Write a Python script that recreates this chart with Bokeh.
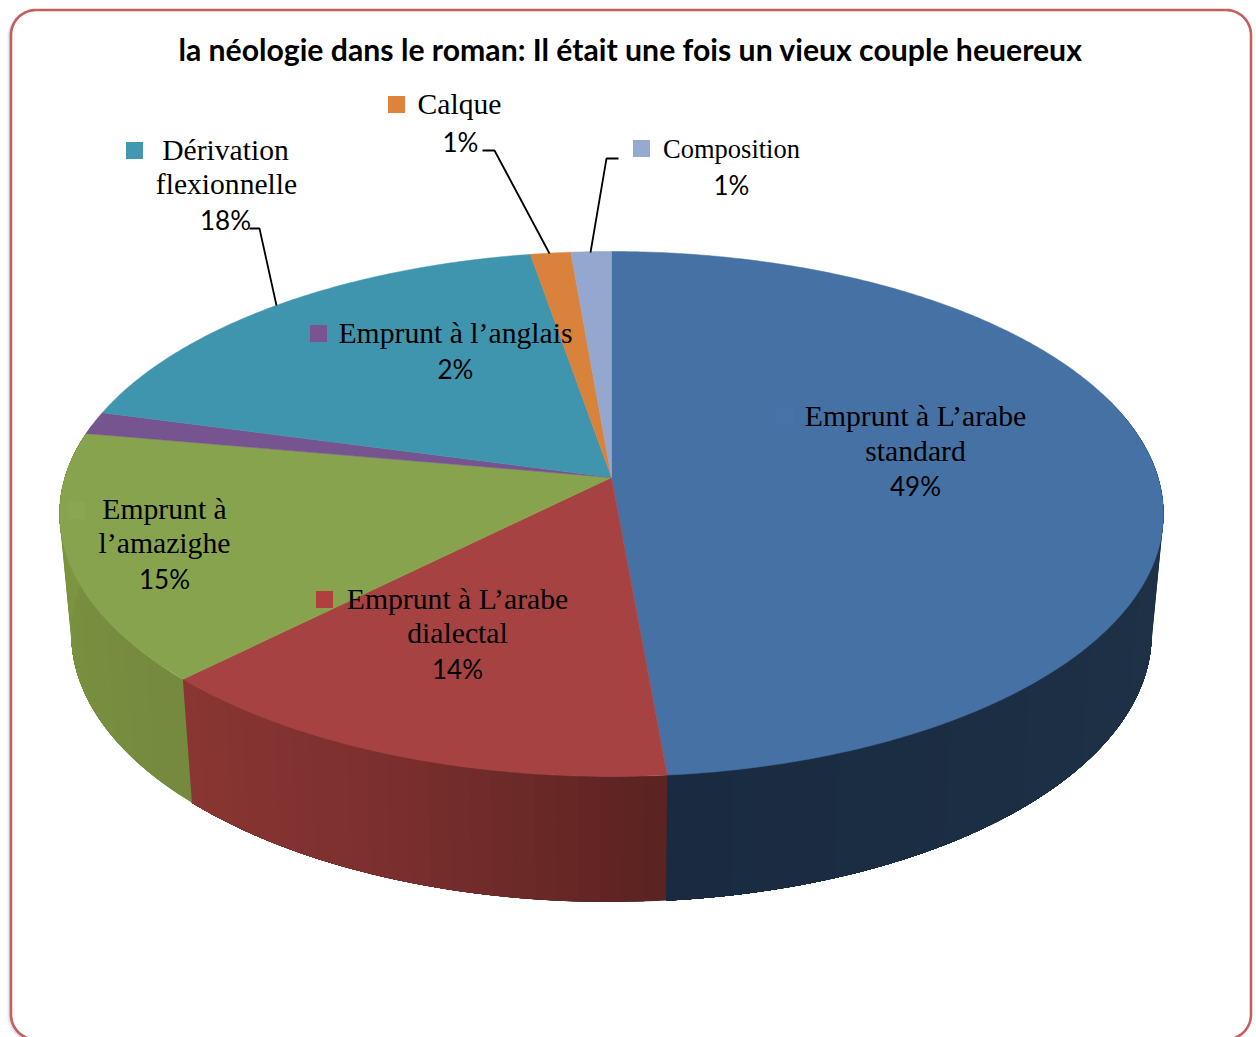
import numpy as np
from bokeh.plotting import figure
from bokeh.models import Range1d
from bokeh.core.properties import value
from bokeh.embed import file_html
from bokeh.resources import INLINE

TITLE = "la néologie dans le roman: Il était une fois un vieux couple heuereux"
categories = ["Emprunt à L’arabe standard", "Emprunt à L’arabe dialectal", "Emprunt à l’amazighe",
              "Emprunt à l’anglais", "Dérivation flexionnelle", "Calque", "Composition"]
values = [48.6, 13.9, 15.3, 1.4, 18.1, 1.35, 1.35]
percent_labels = ["49%", "14%", "15%", "2%", "18%", "1%", "1%"]
top_colors = ["#4671A5", "#A64342", "#88A34E", "#75548F", "#4095AE", "#D9823B", "#93A7CF"]
key_colors = ["#4973A8", "#B0403C", "#8BA652", "#7A5490", "#4298B2", "#DD843C", "#95A9D1"]
side_start = ["#223858", "#5A2320", "#75893F", "#5D4272", "#33788C", "#AE682F", "#7686A6"]
side_mid   = ["#1F3349", "#7A2F2E", "#78903F", "#5D4272", "#33788C", "#AE682F", "#7686A6"]
side_end   = ["#1A2B41", "#8A3632", "#7F9845", "#5D4272", "#33788C", "#AE682F", "#7686A6"]

label_lines = [
    [("Emprunt à L’arabe", 916, 416.5), ("standard", 916, 451.5)],
    [("Emprunt à L’arabe", 458, 599.5), ("dialectal", 458, 633.5)],
    [("Emprunt à", 165, 509.5), ("l’amazighe", 165, 543.5)],
    [("Emprunt à l’anglais", 456, 333.5)],
    [("Dérivation", 226, 150.5), ("flexionnelle", 227, 184.5)],
    [("Calque", 460, 104.5)],
    [("Composition", 732, 149.5)],
]
label_sizes = [29.7, 29.7, 29.7, 29.7, 29.6, 29.6, 26.5]
percent_pos = [(916, 486.5), (458, 669.5), (165, 579.5), (456, 369.5), (226, 220.5), (461, 142.5), (732, 185.5)]
title_pos = (631, 49)
key_pos = [(785, 417), (325, 600), (77, 511), (319, 334), (135, 151), (397, 105), (642, 149)]
leaders = [None, None, None, None,
           ([250, 260, 277], [229, 229, 306]),
           ([483, 495, 550], [151, 151, 254]),
           ([619, 607, 591], [159, 159, 253])]

C = 0.139
TOP = dict(cx=612, ay=478, A=257.4, B=546.6)
BOT = dict(cx=612, ay=597, A=263.0, B=535.0)

def rim(theta_deg, d):
    t = np.radians(theta_deg)
    u, v = np.sin(t), np.cos(t)
    w = 1 + C * v
    return d["cx"] + d["B"] * u / w, d["ay"] - d["A"] * v / w

def hex2rgb(h):
    return np.array([int(h[i:i + 2], 16) for i in (1, 3, 5)], float)

def mix(a, b, f):
    c = hex2rgb(a) * (1 - f) + hex2rgb(b) * f
    return "#%02x%02x%02x" % tuple(int(round(x)) for x in c)

def band(f, s, m, e):
    return mix(s, m, f * 2) if f < 0.5 else mix(m, e, (f - 0.5) * 2)

p = figure(width=1256, height=1037, output_backend="svg", toolbar_location=None,
           x_range=Range1d(1, 1257), y_range=Range1d(1038, 1), min_border=0,
           background_fill_color="#ffffff", border_fill_color="#ffffff")
p.axis.visible = False
p.grid.visible = False
p.outline_line_color = None

R = 25
L, Rt, T, B_ = 11.5, 1251.5, 10.5, 1040
ca = np.linspace(0, np.pi / 2, 20)
card_x = np.concatenate([L + R - R * np.cos(ca), Rt - R + R * np.sin(ca), Rt - R + R * np.cos(ca), L + R - R * np.sin(ca)])
card_y = np.concatenate([T + R - R * np.sin(ca), T + R - R * np.cos(ca), B_ - R + R * np.sin(ca), B_ - R + R * np.cos(ca)])
for off, col in ((-3, "#eef1f6"), (-2, "#dfe5ee"), (-1, "#c8d2e0")):
    p.patch(list(card_x + off), list(card_y + abs(off) * 0.5), fill_color=None, line_color=col, line_width=1.5)
p.patch(list(card_x), list(card_y), fill_color="#ffffff", line_color="#C95C5C", line_width=2.6)

cum = np.concatenate([[0], np.cumsum(values)]) / sum(values) * 360

# side wall: each band runs to the slice's end so later bands overpaint without seams
for i in range(len(values)):
    a0, a1 = cum[i], cum[i + 1]
    lo, hi = max(a0, 70), min(a1, 282)
    if hi <= lo:
        continue
    n = max(2, int((hi - lo) / 2))
    edges = np.linspace(lo, hi, n + 1)
    for j in range(n):
        th = np.linspace(edges[j], hi, 60)
        xs0, ys0 = rim(th, TOP)
        xs1, ys1 = rim(th[::-1], BOT)
        f = ((edges[j] + edges[j + 1]) / 2 - a0) / (a1 - a0)
        col = band(f, side_start[i], side_mid[i], side_end[i])
        p.patch(list(xs0) + list(xs1), list(ys0) + list(ys1), fill_color=col, line_color=None)

for i in range(len(values)):
    th = np.linspace(cum[i], cum[i + 1], max(3, int((cum[i + 1] - cum[i]) * 2)))
    xs, ys = rim(th, TOP)
    p.patch([TOP["cx"]] + list(xs), [TOP["ay"]] + list(ys), fill_color=top_colors[i],
            line_color=top_colors[i], line_width=0.5)

for (kx, ky), col in zip(key_pos, key_colors):
    p.scatter([kx], [ky], marker="square", size=17, fill_color=col, line_color=None)

for ld in leaders:
    if ld:
        p.line(ld[0], ld[1], line_color="#000000", line_width=1.8)

SERIF = value("Liberation Serif")
SANS = value("Lato")
for lines, size in zip(label_lines, label_sizes):
    for txt, x, y in lines:
        p.text([x], [y], text=[txt], text_font=SERIF, text_font_size=f"{size}px",
               text_align="center", text_baseline="alphabetic", text_color="#000000")
for lab, (x, y) in zip(percent_labels, percent_pos):
    p.text([x], [y], text=[lab], text_font=SANS, text_font_size="26px",
           text_align="center", text_baseline="alphabetic", text_color="#000000")
p.text([title_pos[0]], [title_pos[1]], text=[TITLE], text_font=SANS, text_font_style="bold", text_font_size="30.2px",
       text_align="center", text_baseline="alphabetic", text_color="#000000")

open("out.html", "w").write(file_html(p, INLINE))
